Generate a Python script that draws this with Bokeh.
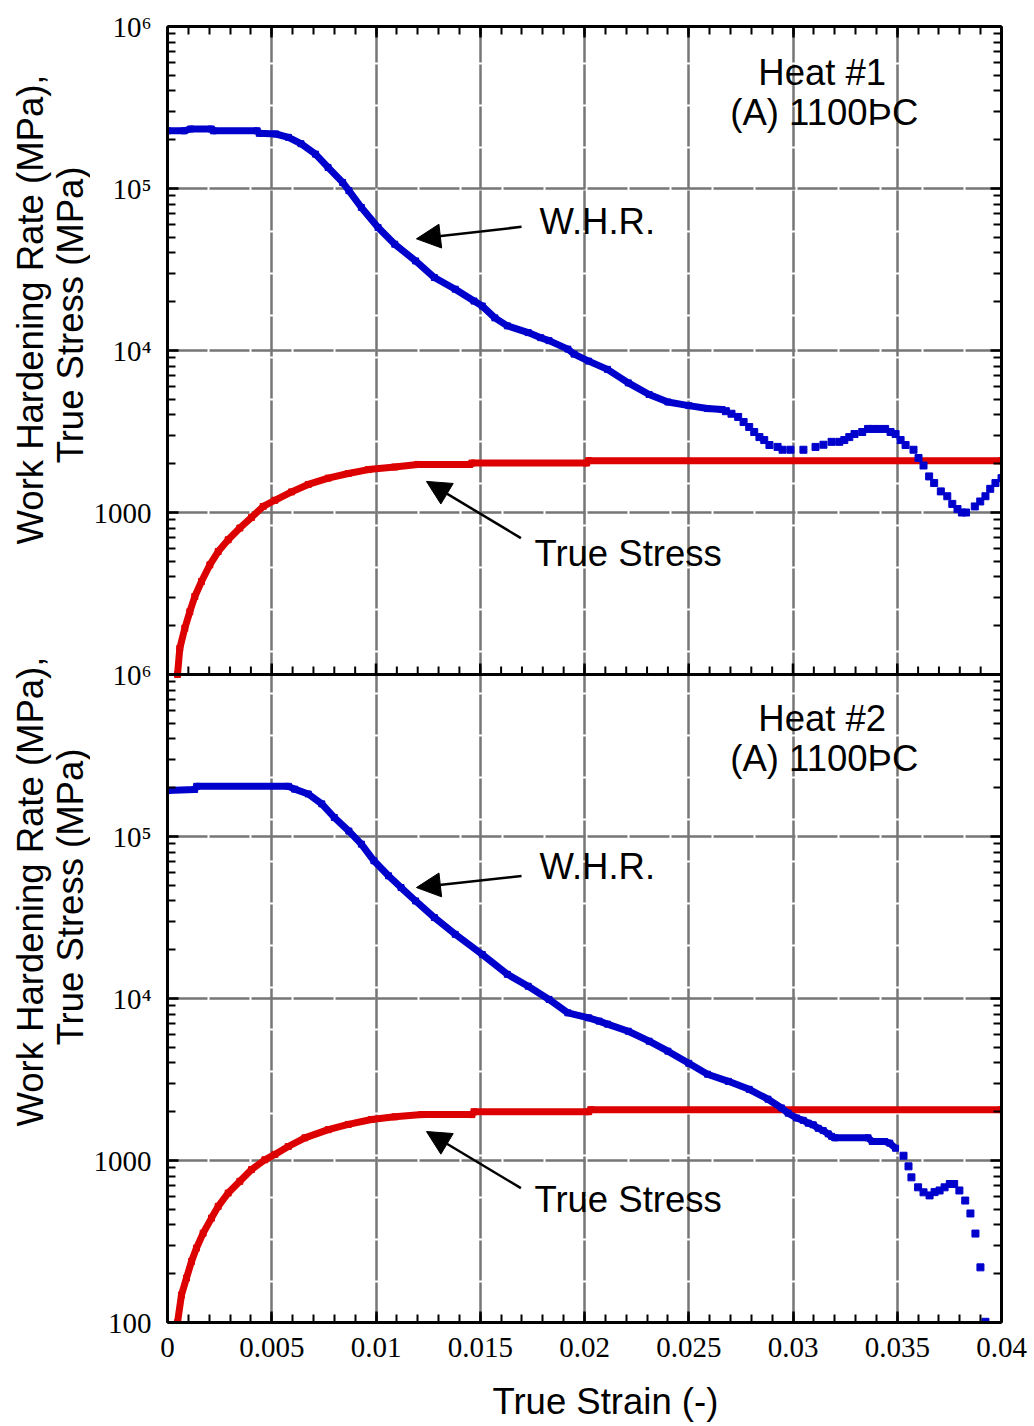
from bokeh.plotting import figure
from bokeh.layouts import row
from bokeh.models import (Range1d, LogScale, LogAxis, LinearAxis, FixedTicker,
                          Label, Arrow, NormalHead, Span, Title)
from bokeh.embed import file_html
from bokeh.resources import INLINE

# ---------------- Heat #1 (upper panel) ----------------
heat1_whr_strain = [0.0, 0.0008, 0.0011, 0.0021, 0.0022, 0.0043, 0.0044, 0.0052,
                    0.0058, 0.0064, 0.0071, 0.0077, 0.0084, 0.0087, 0.0093, 0.0101,
                    0.0109, 0.0119, 0.0128, 0.0138, 0.0147, 0.0151, 0.0157, 0.0163,
                    0.0173, 0.0179, 0.0183, 0.0192, 0.0195, 0.0202, 0.0211, 0.0221,
                    0.0231, 0.0240, 0.0250, 0.0259, 0.0266]
heat1_whr = [2.27e5, 2.27e5, 2.33e5, 2.33e5, 2.27e5, 2.27e5, 2.19e5, 2.17e5,
             2.07e5, 1.89e5, 1.63e5, 1.35e5, 1.09e5, 9.7e4, 7.63e4, 5.74e4,
             4.53e4, 3.57e4, 2.82e4, 2.39e4, 2.02e4, 1.88e4, 1.59e4, 1.42e4,
             1.29e4, 1.20e4, 1.15e4, 1.02e4, 9.5e3, 8.6e3, 7.65e3, 6.31e3,
             5.35e3, 4.81e3, 4.57e3, 4.38e3, 4.32e3]
heat1_whr_tail_strain = [0.02678, 0.02705, 0.02737, 0.02763, 0.0279, 0.02814, 0.02839,
                         0.02862, 0.02887, 0.02926, 0.0295, 0.02988, 0.0305, 0.03108,
                         0.03146, 0.03185, 0.03222, 0.03246, 0.0327, 0.03295, 0.03332,
                         0.0336, 0.0338, 0.0341, 0.03442, 0.03468, 0.03492, 0.03516,
                         0.0354, 0.03578, 0.03602, 0.03626, 0.03653, 0.03677, 0.03709,
                         0.0374, 0.03764, 0.03789, 0.0381, 0.0383, 0.03872, 0.03898,
                         0.03923, 0.03946, 0.03971, 0.0400]
heat1_whr_tail = [4.22e3, 4.07e3, 3.89e3, 3.62e3, 3.37e3, 3.14e3, 2.92e3,
                  2.80e3, 2.61e3, 2.54e3, 2.44e3, 2.44e3, 2.44e3, 2.54e3,
                  2.62e3, 2.73e3, 2.73e3, 2.80e3, 2.92e3, 3.05e3, 3.14e3,
                  3.28e3, 3.28e3, 3.28e3, 3.28e3, 3.14e3, 3.05e3, 2.80e3,
                  2.61e3, 2.44e3, 2.17e3, 1.95e3, 1.67e3, 1.52e3, 1.35e3,
                  1.26e3, 1.13e3, 1.05e3, 1.0e3, 1.0e3, 1.09e3, 1.17e3,
                  1.26e3, 1.40e3, 1.52e3, 1.63e3]
heat1_stress_strain = [0.00048, 0.00059, 0.00083, 0.00107, 0.00131, 0.00163, 0.00203,
                       0.00243, 0.00291, 0.00347, 0.00403, 0.00459, 0.00515, 0.00595,
                       0.00675, 0.00771, 0.00867, 0.00963, 0.0109, 0.0120, 0.0145,
                       0.0146, 0.0201, 0.0202, 0.0400]
heat1_stress = [100, 145, 193, 244, 303, 375, 475,
                574, 679, 802, 933, 1090, 1190, 1340,
                1490, 1630, 1740, 1840, 1910, 1980, 1980,
                2020, 2020, 2090, 2090]

# ---------------- Heat #2 (lower panel) ----------------
heat2_whr_strain = [0.0, 0.0013, 0.0014, 0.0058, 0.0061, 0.00675, 0.0074, 0.0080,
                    0.0087, 0.0093, 0.0099, 0.0106, 0.0112, 0.0119, 0.0128, 0.0138,
                    0.0151, 0.0163, 0.0173, 0.0183, 0.0192, 0.0202, 0.0207, 0.0211,
                    0.0221, 0.0231, 0.0240, 0.0250, 0.0259, 0.0269, 0.0279, 0.0288,
                    0.02945, 0.02977, 0.03017, 0.03049, 0.03073, 0.03097, 0.03121,
                    0.03145, 0.03169, 0.03185, 0.0320, 0.0336, 0.0338, 0.0344,
                    0.03464, 0.03492]
heat2_whr = [1.92e5, 1.95e5, 2.04e5, 2.04e5, 1.96e5, 1.83e5, 1.59e5, 1.31e5,
             1.08e5, 8.97e4, 7.08e4, 5.72e4, 4.84e4, 4.0e4, 3.16e4, 2.49e4,
             1.87e4, 1.41e4, 1.19e4, 9.87e3, 8.16e3, 7.6e3, 7.25e3, 6.95e3,
             6.28e3, 5.45e3, 4.73e3, 3.98e3, 3.41e3, 3.08e3, 2.75e3, 2.39e3,
             2.11e3, 1.96e3, 1.83e3, 1.77e3, 1.70e3, 1.66e3, 1.58e3,
             1.53e3, 1.46e3, 1.41e3, 1.38e3, 1.38e3, 1.31e3, 1.31e3,
             1.28e3, 1.19e3]
heat2_whr_tail_strain = [0.0353, 0.03554, 0.03568, 0.036, 0.03626, 0.03655, 0.03679,
                         0.03703, 0.03727, 0.03752, 0.03773, 0.03798, 0.03826, 0.03851,
                         0.03875, 0.03899, 0.03923]
heat2_whr_tail = [1.07e3, 920, 787, 683, 636, 609, 638,
                  653, 683, 716, 716, 653, 566, 471,
                  354, 219, 101]
heat2_stress_strain = [0.00048, 0.00067, 0.00091, 0.00115, 0.00139, 0.00171, 0.00211,
                       0.00243, 0.00291, 0.00347, 0.00403, 0.00467, 0.00515, 0.00579,
                       0.00659, 0.00771, 0.00867, 0.00978, 0.0109, 0.0122, 0.0146,
                       0.0147, 0.0202, 0.0203, 0.0400]
heat2_stress = [100, 148, 188, 238, 288, 356, 441,
                521, 630, 744, 879, 1010, 1090, 1220,
                1380, 1550, 1670, 1790, 1860, 1920, 1920,
                2000, 2000, 2060, 2060]

# ---------------- axes ----------------
x_ticks = [0, 0.005, 0.01, 0.015, 0.02, 0.025, 0.03, 0.035, 0.04]
x_tick_labels = ["0", "0.005", "0.01", "0.015", "0.02", "0.025", "0.03", "0.035", "0.04"]
x_minor = [i / 1000 for i in range(41)]
y_decades = [100, 1000, 1e4, 1e5, 1e6]
y_decade_labels = ["100", "1000", "10\u2074", "10\u2075", "10\u2076"]

# The two panels share one frame: the upper panel owns the default log range,
# the lower panel sits four decades further down on its own range.
SHIFT = 1e4
upper_range = Range1d(1e-2, 1e6)
lower_range = Range1d(1e-2 * SHIFT, 1e6 * SHIFT)

BLUE = "#0000cc"
RED = "#dd0000"
SANS = "Liberation Sans"
SERIF = "Liberation Serif"
TEXT_SIZE = "36.5px"
HEIGHT = 1426
SIDE_W = 90

p = figure(frame_width=834, frame_height=1296, x_range=Range1d(0, 0.04),
           y_range=upper_range, y_axis_type="log", output_backend="svg",
           toolbar_location=None, min_border_left=76, min_border_right=34,
           min_border_top=26, min_border_bottom=104,
           background_fill_color="white", border_fill_color="white")
p.extra_y_ranges = {"lower": lower_range}
p.extra_y_scales = {"lower": LogScale()}
p.outline_line_color = None

y_major = sorted(set(y_decades + [d / SHIFT for d in y_decades]))
upper_minor = [k * d for d in y_decades[:-1] for k in range(2, 10)]
y_minor = upper_minor + [m / SHIFT for m in upper_minor]
y_labels = {d: lab for d, lab in zip(y_decades, y_decade_labels)}
# the boundary between the panels carries the lower panel's top label
y_labels.update({d / SHIFT: lab for d, lab in zip(y_decades, y_decade_labels)})

xticker = FixedTicker(ticks=x_ticks, minor_ticks=x_minor)
yticker = FixedTicker(ticks=y_major, minor_ticks=y_minor)


def style_axis(ax, labels, standoff=12):
    ax.axis_line_width = 3
    ax.axis_line_color = "black"
    ax.major_tick_in = 11
    ax.major_tick_out = 0
    ax.minor_tick_in = 8
    ax.minor_tick_out = 0
    ax.major_tick_line_width = 2.5
    ax.minor_tick_line_width = 2
    ax.major_tick_line_color = "black"
    ax.minor_tick_line_color = "black"
    ax.major_label_text_font = SERIF
    ax.major_label_text_color = "black"
    if labels is not None:
        ax.major_label_overrides = labels
        ax.major_label_text_font_size = "29px"
        ax.major_label_standoff = standoff
    else:
        # mirrored axes: ticks only
        ax.major_label_overrides = {t: "" for t in ax.ticker.ticks}
        ax.major_label_text_font_size = "2px"
        ax.major_label_standoff = 0


xb = p.xaxis[0]
xb.ticker = xticker
style_axis(xb, dict(zip(x_ticks, x_tick_labels)), standoff=15)

yl = p.yaxis[0]
yl.ticker = yticker
style_axis(yl, y_labels, standoff=16)

xa = LinearAxis(ticker=xticker)
style_axis(xa, None)
p.add_layout(xa, "above")

yr = LogAxis(ticker=yticker)
style_axis(yr, None)
p.add_layout(yr, "right")

p.xgrid.ticker = xticker
p.ygrid.ticker = yticker
for g in (p.xgrid, p.ygrid):
    g.grid_line_color = "#767676"
    g.grid_line_width = 2.5
    g.grid_line_dash = "40 2"

# boundary between the two panels, with the upper panel's inward x ticks
p.add_layout(Span(location=100, dimension="width", line_color="black", line_width=3))
p.ray(x=x_minor, y=[100] * len(x_minor), length=8, length_units="screen",
      angle=90, angle_units="deg", line_color="black", line_width=2)
p.ray(x=x_ticks, y=[100] * len(x_ticks), length=11, length_units="screen",
      angle=90, angle_units="deg", line_color="black", line_width=2.5)

# ---------------- data ----------------
for xs, ys, rng in ((heat1_stress_strain, heat1_stress, "default"),
                    (heat2_stress_strain, heat2_stress, "lower")):
    p.line(xs, ys, line_color=RED, line_width=7, y_range_name=rng)
    p.scatter(xs, ys, marker="square", size=6, fill_color=RED, line_color=RED,
              y_range_name=rng)

for xs, ys, rng in ((heat1_whr_strain, heat1_whr, "default"),
                    (heat2_whr_strain, heat2_whr, "lower")):
    p.line(xs, ys, line_color=BLUE, line_width=7, y_range_name=rng)
    p.scatter(xs, ys, marker="square", size=6, fill_color=BLUE, line_color=BLUE,
              y_range_name=rng)

for xs, ys, rng in ((heat1_whr_tail_strain, heat1_whr_tail, "default"),
                    (heat2_whr_tail_strain, heat2_whr_tail, "lower")):
    p.scatter(xs, ys, marker="square", size=7, fill_color=BLUE, line_color=BLUE,
              y_range_name=rng)


# ---------------- annotations ----------------
def text(fig, x, y, s, rng="default", align="left", angle=0.0):
    fig.add_layout(Label(x=x, y=y, text=s, y_range_name=rng, text_font=SANS,
                         text_font_size=TEXT_SIZE, text_color="black",
                         text_align=align, text_baseline="middle", angle=angle))


def arrow(x0, y0, x1, y1, rng):
    head = NormalHead(size=24, fill_color="black", line_color="black", line_width=1)
    p.add_layout(Arrow(end=head, x_start=x0, y_start=y0, x_end=x1, y_end=y1,
                       line_color="black", line_width=2.5, y_range_name=rng))


text(p, 0.0314, 5.2e5, "Heat #1", align="center")
text(p, 0.0314, 5.35e5, "Heat #2", "lower", align="center")
text(p, 0.0315, 2.94e5, "(A) 1100\u00deC", align="center")
text(p, 0.0315, 3.03e5, "(A) 1100\u00deC", "lower", align="center")

text(p, 0.01784, 6.3e4, "W.H.R.")
text(p, 0.01784, 6.5e4, "W.H.R.", "lower")
text(p, 0.0176, 558, "True Stress")
text(p, 0.0176, 574, "True Stress", "lower")

arrow(0.01698, 5.8e4, 0.01194, 4.89e4, "default")
arrow(0.01698, 5.71e4, 0.01194, 4.84e4, "lower")
arrow(0.01695, 695, 0.01242, 1556, "default")
arrow(0.01695, 675, 0.01242, 1510, "lower")

p.add_layout(Title(text="True Strain (-)", align="left", offset=325,
                   text_font=SANS, text_font_size=TEXT_SIZE,
                   text_font_style="normal", text_color="black", standoff=39),
             "below")

# strip on the left carrying the two-line y titles of both panels
side = figure(width=SIDE_W, height=HEIGHT, x_range=Range1d(0, SIDE_W),
              y_range=Range1d(0, HEIGHT), x_axis_location=None,
              y_axis_location=None, min_border=0, output_backend="svg",
              toolbar_location=None, background_fill_color="white",
              border_fill_color="white")
side.outline_line_color = None
side.xgrid.visible = False
side.ygrid.visible = False
for top_y in (0, 648):
    text(side, 30, HEIGHT - (315 + top_y), "Work Hardening Rate (MPa),",
         align="center", angle=1.5707963)
    text(side, 70, HEIGHT - (321 + top_y), "True Stress (MPa)",
         align="center", angle=1.5707963)

open("out.html", "w").write(file_html(row(side, p), INLINE))
